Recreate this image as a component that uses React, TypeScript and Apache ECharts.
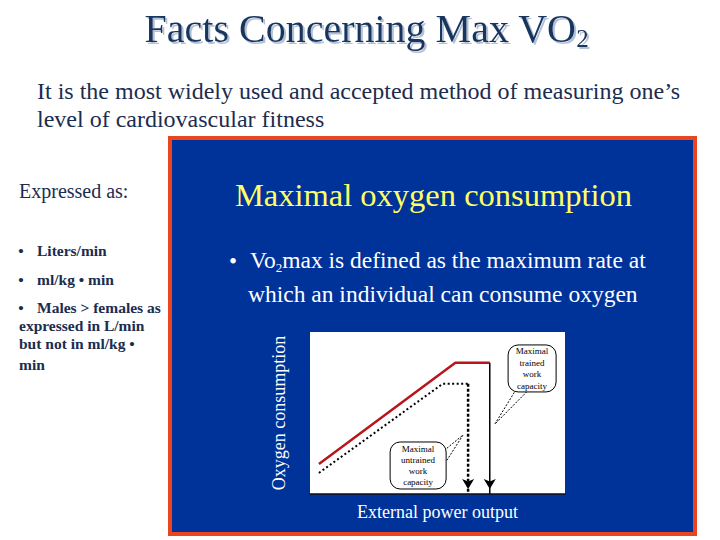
import React, { useEffect, useRef } from "react";
import * as echarts from "echarts";

// ---- chart data (oxygen consumption vs external power output, arbitrary units 0-100)
const trainedPower = [3.5, 57, 70.5];
const trainedVO2 = [18.5, 81, 81];
const untrainedPower = [3.5, 52, 62];
const untrainedVO2 = [13, 68, 68];

const xAxisName = "External power output";
const yAxisName = "Oxygen consumption";

const trainedCalloutLabel = ["Maximal", "trained", "work", "capacity"];
const untrainedCalloutLabel = ["Maximal", "untrained", "work", "capacity"];
// callout anchor points in data units: bubble centre and pointer tip
const trainedCalloutAt = [87.1, 77.5];
const trainedCalloutTip = [72.5, 43.2];
const untrainedCalloutAt = [42.4, 17.6];
const untrainedCalloutTip = [60, 36.4];

// ---- slide texts
const pageTitle = "Facts Concerning Max VO";
const pageTitleSub = "2";
const subtitleLines = [
  "It is the most widely used and accepted method of measuring one\u2019s",
  "level of cardiovascular fitness",
];
const leftHeading = "Expressed as:";
const leftBullets = ["Liters/min", "ml/kg \u2022 min", "Males > females as"];
const leftContinuation = ["expressed in L/min", "but not in ml/kg \u2022", "min"];
const panelTitle = "Maximal oxygen consumption";
const panelBulletA = "Vo";
const panelBulletSub = "2";
const panelBulletB = "max is defined as the maximum rate at";
const panelBulletLine2 = "which an individual can consume oxygen";

const FONT = "'Liberation Serif', 'Times New Roman', Times, serif";
const NAVY = "#1b2d4f";

function txt(
  text: string,
  x: number,
  y: number,
  size: number,
  color: string,
  extra: Record<string, any> = {}
) {
  return {
    type: "text",
    x,
    y,
    silent: true,
    style: {
      text,
      fill: color,
      fontSize: size,
      fontFamily: FONT,
      textAlign: "left",
      textVerticalAlign: "middle",
      ...extra,
    },
  };
}

export default function App() {
  const ref = useRef<HTMLDivElement>(null);

  useEffect(() => {
    const el = ref.current;
    if (!el) return;
    const chart = echarts.init(el, null, { renderer: "svg", width: 720, height: 540 });

    const pair = (xs: number[], ys: number[]) => xs.map((x, i) => [x, ys[i]]);
    const lastT = trainedPower.length - 1;
    const lastU = untrainedPower.length - 1;

    chart.setOption({
      animation: false,
      backgroundColor: "#ffffff",
      grid: {
        left: 310,
        top: 332,
        width: 255,
        height: 162,
        show: true,
        backgroundColor: "#ffffff",
        borderWidth: 0,
      },
      xAxis: {
        type: "value",
        min: 0,
        max: 100,
        name: xAxisName,
        nameLocation: "middle",
        nameGap: 9,
        nameTextStyle: { color: "#ffffff", fontSize: 18, fontFamily: FONT },
        axisLine: { show: true, lineStyle: { color: "#111", width: 1.5 } },
        axisTick: { show: false },
        axisLabel: { show: false },
        splitLine: { show: false },
      },
      yAxis: {
        type: "value",
        min: 0,
        max: 100,
        name: yAxisName,
        nameLocation: "middle",
        nameGap: 22,
        nameTextStyle: { color: "#ffffff", fontSize: 18, fontFamily: FONT },
        axisLine: { show: false },
        axisTick: { show: false },
        axisLabel: { show: false },
        splitLine: { show: false },
      },
      series: [
        {
          name: "Trained",
          type: "line",
          data: pair(trainedPower, trainedVO2),
          symbol: "none",
          lineStyle: { color: "#b8151c", width: 2.5 },
          z: 3,
        },
        {
          name: "Untrained",
          type: "line",
          data: pair(untrainedPower, untrainedVO2),
          symbol: "none",
          lineStyle: { color: "#000", width: 2, type: [2, 2.5] },
          z: 3,
        },
        {
          name: "Trained max",
          type: "line",
          symbol: "arrow",
          showSymbol: true,
          itemStyle: { color: "#000" },
          lineStyle: { color: "#000", width: 1.5 },
          data: [
            { value: [trainedPower[lastT], trainedVO2[lastT]], symbol: "none" },
            {
              value: [trainedPower[lastT], 0],
              symbol: "arrow",
              symbolSize: [9, 10],
              symbolRotate: 180,
              symbolOffset: [0, -5],
            },
          ],
          z: 4,
        },
        {
          name: "Untrained max",
          type: "line",
          symbol: "arrow",
          showSymbol: true,
          itemStyle: { color: "#000" },
          lineStyle: { color: "#000", width: 2.5, type: [3, 2] },
          data: [
            { value: [untrainedPower[lastU], untrainedVO2[lastU]], symbol: "none" },
            {
              value: [untrainedPower[lastU], 0],
              symbol: "arrow",
              symbolSize: [9, 10],
              symbolRotate: 180,
              symbolOffset: [0, -5],
            },
          ],
          z: 4,
        },
      ],
    });

    const px = (v: number[]) => chart.convertToPixel({ gridIndex: 0 }, v) as number[];

    const callout = (
      label: string[],
      at: number[],
      tip: number[],
      w: number,
      h: number,
      bases: number[][],
      lh: number
    ) => {
      const c = px(at);
      const t = px(tip);
      return [
        {
          type: "polyline",
          z: 100,
          silent: true,
          shape: {
            points: [
              [c[0] + bases[0][0], c[1] + bases[0][1]],
              t,
              [c[0] + bases[1][0], c[1] + bases[1][1]],
            ],
          },
          style: { stroke: "#000", fill: "none", lineWidth: 1, lineDash: [2, 1.5] },
        },
        {
          type: "rect",
          z: 101,
          silent: true,
          shape: { x: c[0] - w / 2, y: c[1] - h / 2, width: w, height: h, r: 10 },
          style: { fill: "#ffffff", stroke: "#000", lineWidth: 1 },
        },
        {
          type: "text",
          z: 102,
          silent: true,
          x: c[0],
          y: c[1],
          style: {
            text: label.join("\n"),
            fill: "#000",
            fontSize: 9,
            fontFamily: FONT,
            textAlign: "center",
            textVerticalAlign: "middle",
            lineHeight: lh,
          },
        },
      ];
    };

    const shadow = {
      textShadowColor: "#b3c1d6",
      textShadowOffsetX: 2,
      textShadowOffsetY: 2,
      textShadowBlur: 1,
    };
    const titleRich = {
      a: { fontSize: 40, lineHeight: 44, fontFamily: FONT, ...shadow },
      s: { fontSize: 25, lineHeight: 8, fontFamily: FONT, verticalAlign: "bottom", ...shadow },
    };
    const bulletRich = {
      a: { fontSize: 23.5, lineHeight: 28, fontFamily: FONT },
      s: { fontSize: 13, lineHeight: 14, fontFamily: FONT, verticalAlign: "bottom" },
    };

    const graphics: any[] = [
      // blue panel with orange frame
      {
        type: "rect",
        z: -1,
        silent: true,
        shape: { x: 170, y: 138, width: 525, height: 396 },
        style: { fill: "#003399", stroke: "#ea4420", lineWidth: 4 },
      },
      // title
      {
        type: "text",
        x: 366.5,
        y: 28.5,
        silent: true,
        style: {
          text: `{a|${pageTitle}}{s|${pageTitleSub}}`,
          rich: titleRich,
          fill: "#17355f",
          textAlign: "center",
          textVerticalAlign: "middle",
        },
      },
      txt(subtitleLines[0], 37, 91, 24, NAVY),
      txt(subtitleLines[1], 37, 119, 24, NAVY),
      // left column
      txt(leftHeading, 19, 190.5, 20, NAVY),
      txt("\u2022", 21, 250, 15.5, NAVY, { textAlign: "center", fontWeight: "bold" }),
      txt(leftBullets[0], 37, 250.5, 15.5, NAVY, { fontWeight: "bold" }),
      txt("\u2022", 21, 279, 15.5, NAVY, { textAlign: "center", fontWeight: "bold" }),
      txt(leftBullets[1], 37, 279, 15.5, NAVY, { fontWeight: "bold" }),
      txt("\u2022", 21, 307, 15.5, NAVY, { textAlign: "center", fontWeight: "bold" }),
      txt(leftBullets[2], 37, 307, 15.5, NAVY, { fontWeight: "bold" }),
      txt(leftContinuation[0], 19, 325, 15.5, NAVY, { fontWeight: "bold" }),
      txt(leftContinuation[1], 19, 343, 15.5, NAVY, { fontWeight: "bold" }),
      txt(leftContinuation[2], 19, 364, 15.5, NAVY, { fontWeight: "bold" }),
      // panel texts
      txt(panelTitle, 433.5, 194.5, 32.5, "#ffff66", { textAlign: "center" }),
      txt("\u2022", 233, 261, 23, "#ffffff", { textAlign: "center" }),
      {
        type: "text",
        x: 250,
        y: 260,
        silent: true,
        style: {
          text: `{a|${panelBulletA}}{s|${panelBulletSub}}{a|${panelBulletB}}`,
          rich: bulletRich,
          fill: "#ffffff",
          textAlign: "left",
          textVerticalAlign: "middle",
        },
      },
      txt(panelBulletLine2, 248, 294, 23.5, "#ffffff"),
      ...callout(trainedCalloutLabel, trainedCalloutAt, trainedCalloutTip, 48, 47, [[-16, 21], [-4, 22]], 11.5),
      ...callout(untrainedCalloutLabel, untrainedCalloutAt, untrainedCalloutTip, 56, 47, [[26, -15], [28, -4]], 10.8),
    ];

    chart.setOption({ graphic: graphics });

    return () => {
      chart.dispose();
    };
  }, []);

  return (
    <div
      ref={ref}
      style={{ position: "absolute", left: 0, top: 0, width: 720, height: 540 }}
    />
  );
}
